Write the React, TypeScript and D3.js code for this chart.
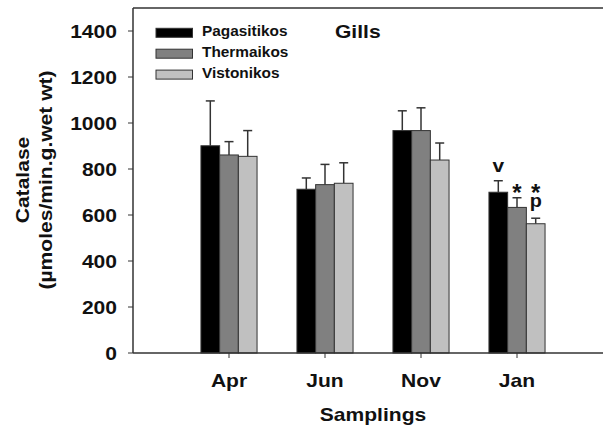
import React from "react";
import * as d3 from "d3";

const months = ["Apr", "Jun", "Nov", "Jan"];
const sites = ["Pagasitikos", "Thermaikos", "Vistonikos"];
const fills = ["#000000", "#808080", "#c0c0c0"];

const pagasitikos = [901, 712, 967, 699];
const pagasitikosErr = [195, 49, 86, 50];
const thermaikos = [861, 732, 967, 633];
const thermaikosErr = [58, 88, 99, 42];
const vistonikos = [855, 738, 839, 562];
const vistonikosErr = [112, 89, 74, 24];

const yTicks = [0, 200, 400, 600, 800, 1000, 1200, 1400];

const font = "Arial, 'Liberation Sans', sans-serif";
const ink = "#111";
const axisColor = "#333";

// bold text, a bit wider than the installed Arial clone
const T = ({ x, y, size = 18, sx = 1.17, anchor = "start", rotate = 0, children }: any) => (
  <text
    transform={`translate(${x},${y}) rotate(${rotate}) scale(${sx},1)`}
    textAnchor={anchor}
    fontFamily={font}
    fontWeight="bold"
    fontSize={size}
    fill={ink}
  >
    {children}
  </text>
);

const App = () => {
  const width = 603,
    height = 432;
  const left = 133,
    top = 8,
    bottom = 353;

  const y = d3.scaleLinear().domain([0, 1500]).range([bottom, top]);
  const x = d3.scaleLinear().domain([0, 5]).range([left, left + 96 * 5]);
  const barW = 18.7;

  const values = [pagasitikos, thermaikos, vistonikos];
  const errs = [pagasitikosErr, thermaikosErr, vistonikosErr];
  const cx = (i: number, s: number) => x(i + 1) + (s - 1) * barW;
  const capY = (i: number, s: number) => y(values[s][i] + errs[s][i]);

  return (
    <svg width={width} height={height} style={{ position: "absolute", left: 0, top: 0 }}>
      <rect x={0} y={0} width={width} height={height} fill="#fff" />
      {/* frame */}
      <line x1={left} x2={width} y1={top} y2={top} stroke={axisColor} strokeWidth={1.5} />
      <line x1={left} x2={left} y1={top} y2={bottom} stroke={axisColor} strokeWidth={1.5} />

      {values.map((series, s) =>
        series.map((v, i) => {
          const c = cx(i, s);
          const yTop = capY(i, s);
          return (
            <g key={s + "-" + i}>
              <line x1={c} x2={c} y1={y(v)} y2={yTop} stroke={axisColor} strokeWidth={1.5} />
              <line x1={c - 4.5} x2={c + 4.5} y1={yTop} y2={yTop} stroke={axisColor} strokeWidth={1.5} />
              <rect
                x={c - barW / 2}
                y={y(v)}
                width={barW}
                height={bottom - y(v)}
                fill={fills[s]}
                stroke={axisColor}
                strokeWidth={1}
              />
            </g>
          );
        })
      )}

      {/* significance marks over Jan */}
      <T x={cx(3, 0)} y={capY(3, 0) - 9} size={19} sx={1.1} anchor="middle">v</T>
      <T x={cx(3, 1)} y={capY(3, 1) + 3.3} size={24} sx={1} anchor="middle">*</T>
      <T x={cx(3, 2)} y={capY(3, 2) - 17.3} size={24} sx={1} anchor="middle">*</T>
      <T x={cx(3, 2)} y={capY(3, 2) - 11} size={18} sx={1.1} anchor="middle">p</T>

      {/* x axis */}
      <line x1={left} x2={width} y1={bottom} y2={bottom} stroke={axisColor} strokeWidth={1.5} />
      {months.map((m, i) => (
        <g key={m}>
          <line x1={x(i + 1)} x2={x(i + 1)} y1={bottom} y2={bottom + 5} stroke={axisColor} strokeWidth={1} />
          <T x={x(i + 1)} y={386.5} anchor="middle">{m}</T>
        </g>
      ))}
      <T x={373} y={421} anchor="middle">Samplings</T>

      {/* y axis */}
      {yTicks.map((t) => (
        <g key={t}>
          <line x1={left - 5} x2={left} y1={y(t)} y2={y(t)} stroke={axisColor} strokeWidth={1} />
          <T x={117} y={y(t) + 6.5} anchor="end">{t}</T>
        </g>
      ))}
      <T x={29} y={180} rotate={-90} anchor="middle">Catalase</T>
      <T x={52} y={180} rotate={-90} anchor="middle">(µmoles/min.g.wet wt)</T>

      {/* legend */}
      {sites.map((name, s) => (
        <g key={name}>
          <rect
            x={156}
            y={28.3 + s * 20.9}
            width={36.5}
            height={9}
            fill={fills[s]}
            stroke={axisColor}
            strokeWidth={1}
          />
          <T x={202} y={35.7 + s * 21.2} size={14} sx={1.1}>{name}</T>
        </g>
      ))}
      <T x={335} y={37.5}>Gills</T>
    </svg>
  );
};

export default App;
